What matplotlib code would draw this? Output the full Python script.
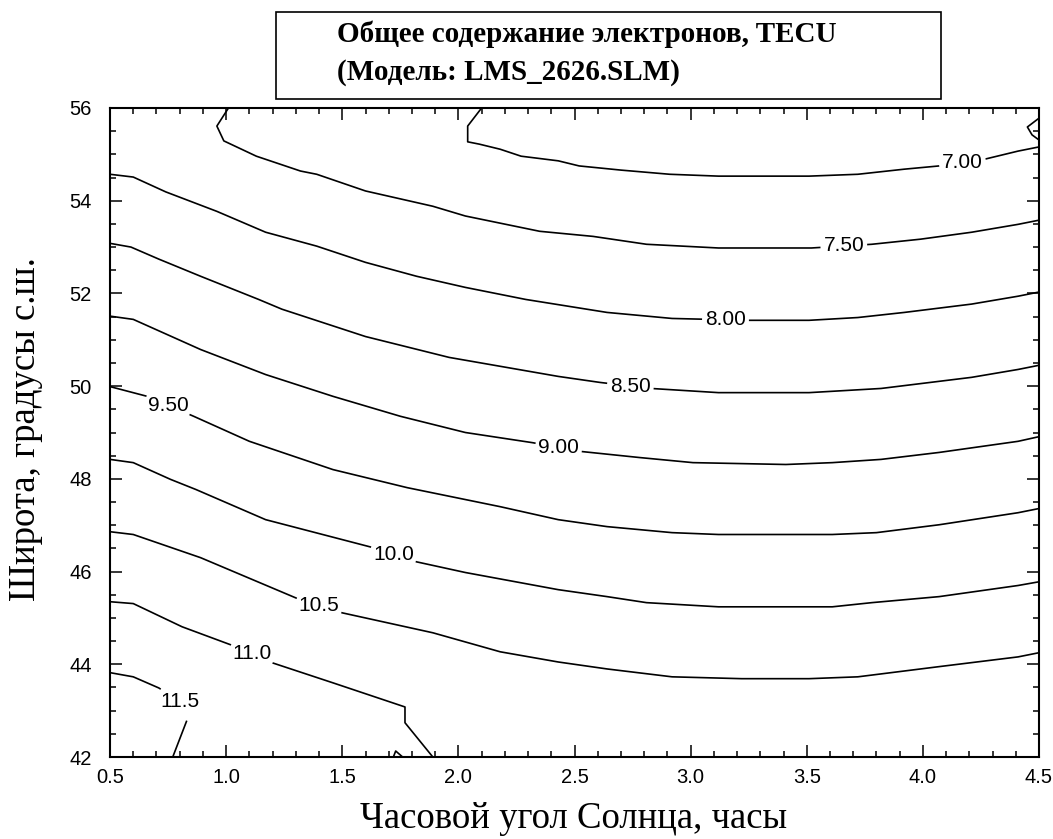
import numpy as np
import matplotlib.pyplot as plt
from matplotlib.contour import ContourSet
from matplotlib.patches import Rectangle
from matplotlib.ticker import MultipleLocator, FormatStrFormatter

plt.rcParams['font.family'] = ['Liberation Sans', 'DejaVu Sans']

# contour levels (TECU)
levels = [6.5, 7.0, 7.5, 8.0, 8.5, 9.0, 9.5, 10.0, 10.5, 11.0, 11.5]
level_text = ['6.50', '7.00', '7.50', '8.00', '8.50', '9.00', '9.50', '10.0', '10.5', '11.0', '11.5']

# isolines: hour angle (h) and latitude (deg N)
h65 = [4.5, 4.45, 4.47, 4.5]
lat65 = [55.78, 55.59, 55.42, 55.31]

h70 = [2.10, 2.04, 2.04, 2.09, 2.18, 2.27, 2.43, 2.52, 2.70, 2.91, 3.12, 3.51, 3.72, 3.92, 4.07, 4.27, 4.41, 4.50]
lat70 = [56.0, 55.61, 55.27, 55.22, 55.11, 54.96, 54.86, 54.75, 54.66, 54.57, 54.53, 54.53, 54.57, 54.68, 54.75, 54.90, 55.07, 55.16]

h75 = [1.01, 0.96, 0.99, 1.13, 1.32, 1.39, 1.60, 1.89, 2.03, 2.35, 2.58, 2.81, 3.12, 3.52, 3.78, 3.99, 4.21, 4.41, 4.50]
lat75 = [56.0, 55.61, 55.29, 54.96, 54.64, 54.57, 54.21, 53.88, 53.67, 53.34, 53.23, 53.06, 52.98, 52.98, 53.06, 53.17, 53.32, 53.49, 53.58]

h80 = [0.5, 0.60, 0.74, 0.96, 1.17, 1.39, 1.60, 1.82, 2.03, 2.29, 2.64, 2.92, 3.25, 3.51, 3.72, 3.92, 4.21, 4.41, 4.5]
lat80 = [54.57, 54.51, 54.19, 53.77, 53.32, 53.02, 52.67, 52.37, 52.13, 51.87, 51.59, 51.46, 51.42, 51.42, 51.48, 51.59, 51.77, 51.94, 52.03]

h85 = [0.5, 0.59, 0.71, 0.89, 1.14, 1.24, 1.60, 1.96, 2.43, 2.61, 2.83, 3.12, 3.51, 3.82, 4.21, 4.41, 4.5]
lat85 = [53.08, 53.0, 52.74, 52.37, 51.87, 51.66, 51.07, 50.62, 50.21, 50.08, 49.95, 49.86, 49.86, 49.95, 50.19, 50.36, 50.45]

h90 = [0.5, 0.60, 0.89, 1.17, 1.46, 1.75, 2.03, 2.32, 2.53, 2.78, 3.01, 3.41, 3.61, 3.82, 4.07, 4.41, 4.5]
lat90 = [51.51, 51.44, 50.79, 50.25, 49.78, 49.35, 49.0, 48.78, 48.59, 48.46, 48.35, 48.31, 48.35, 48.42, 48.57, 48.81, 48.91]

h95 = [0.5, 0.66, 0.86, 1.10, 1.46, 1.78, 2.18, 2.43, 2.64, 2.92, 3.12, 3.61, 3.80, 4.07, 4.41, 4.5]
lat95 = [49.99, 49.78, 49.35, 48.81, 48.20, 47.81, 47.40, 47.12, 46.97, 46.84, 46.80, 46.80, 46.84, 47.01, 47.27, 47.36]

h100 = [0.5, 0.60, 0.76, 0.87, 1.17, 1.63, 1.82, 2.03, 2.43, 2.64, 2.81, 3.12, 3.61, 3.78, 4.07, 4.41, 4.5]
lat100 = [48.42, 48.35, 47.99, 47.77, 47.12, 46.52, 46.21, 45.98, 45.61, 45.46, 45.33, 45.24, 45.24, 45.33, 45.46, 45.70, 45.78]

h105 = [0.5, 0.60, 0.89, 1.32, 1.50, 1.89, 2.18, 2.43, 2.64, 2.92, 3.22, 3.51, 3.72, 4.07, 4.41, 4.5]
lat105 = [46.86, 46.80, 46.30, 45.39, 45.11, 44.68, 44.27, 44.05, 43.90, 43.73, 43.69, 43.69, 43.73, 43.95, 44.16, 44.25]

h110 = [0.5, 0.60, 0.81, 1.02, 1.20, 1.46, 1.77, 1.77, 1.89]
lat110 = [45.35, 45.31, 44.81, 44.42, 44.03, 43.60, 43.08, 42.74, 42.0]

h115 = [0.5, 0.60, 0.71, 0.80, 0.84, 0.77]
lat115 = [43.82, 43.73, 43.49, 43.2, 42.91, 42.0]
h115b = [1.72, 1.73, 1.76]
lat115b = [42.0, 42.13, 42.0]

xticks = [0.5, 1.0, 1.5, 2.0, 2.5, 3.0, 3.5, 4.0, 4.5]
yticks = [42, 44, 46, 48, 50, 52, 54, 56]

title1 = 'Общее содержание электронов, TECU'
title2 = '(Модель: LMS_2626.SLM)'
xlab = 'Часовой угол Солнца, часы'
ylab = 'Широта, градусы с.ш.'

def seg(h, lat):
    return np.column_stack([h, lat])

allsegs = [[seg(h65, lat65)], [seg(h70, lat70)], [seg(h75, lat75)], [seg(h80, lat80)],
           [seg(h85, lat85)], [seg(h90, lat90)], [seg(h95, lat95)], [seg(h100, lat100)],
           [seg(h105, lat105)], [seg(h110, lat110)],
           [seg(h115, lat115), seg(h115b, lat115b)]]

fig = plt.figure(figsize=(10.53, 8.39), dpi=100)
ax = fig.add_axes([0.1045, 0.0977, 0.8822, 0.7736])

cs = ContourSet(ax, levels, allsegs, colors='black', linewidths=1.2)
ax.set_xlim(0.5, 4.5)
ax.set_ylim(42, 56)

# label spots (hour, lat), 6.50 is left unlabelled
label_pos = [(4.17, 54.83), (3.66, 52.99), (3.15, 51.42), (2.74, 49.98), (2.43, 48.63),
             (0.75, 49.59), (1.72, 46.37), (1.40, 45.27), (1.11, 44.22), (0.80, 43.2)]

fmt = dict(zip(levels, level_text))
cs.clabel(inline=True, inline_spacing=3, fontsize=15, fmt=fmt, manual=label_pos)
for t in cs.labelTexts:
    t.set_rotation(0)

ax.set_xticks(xticks)
ax.set_yticks(yticks)
ax.xaxis.set_major_formatter(FormatStrFormatter('%.1f'))
ax.xaxis.set_minor_locator(MultipleLocator(0.1))
ax.yaxis.set_minor_locator(MultipleLocator(0.5))
ax.tick_params(which='both', direction='in', top=True, right=True, width=1.1, colors='black')
ax.tick_params(which='major', length=8.5, labelsize=14.5)
ax.tick_params(axis='x', which='major', pad=8)
ax.tick_params(axis='y', which='major', pad=13)
ax.tick_params(which='minor', length=4.5)
for sp in ax.spines.values():
    sp.set_linewidth(1.5)

serif = ['Liberation Serif', 'DejaVu Serif']
fig.add_artist(Rectangle((0.2621, 0.882), 0.6315, 0.1037, transform=fig.transFigure,
                         fill=False, edgecolor='black', linewidth=1.2))
fig.text(0.320, 1 - 34 / 839, title1, family=serif, weight='bold', fontsize=21, va='center', ha='left')
fig.text(0.320, 1 - 73 / 839, title2, family=serif, weight='bold', fontsize=21, va='center', ha='left')

fig.text(360 / 1053, 1 - 819 / 839, xlab, family=serif, fontsize=26.5, va='center', ha='left')
fig.text(26 / 1053, 1 - 429 / 839, ylab, family=serif, fontsize=26.5, va='center', ha='center', rotation=90)

fig.savefig('out.png', dpi=100)
